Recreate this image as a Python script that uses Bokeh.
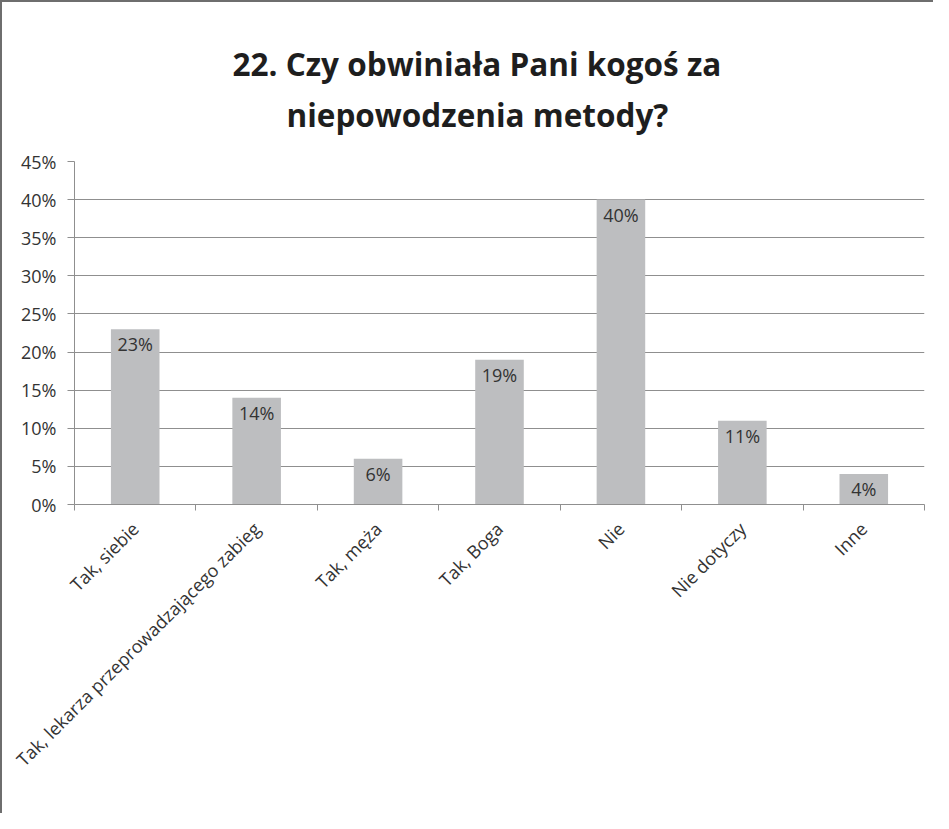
import math
from bokeh.plotting import figure
from bokeh.models import ColumnDataSource, FixedTicker, NumeralTickFormatter, Title, Range1d
from bokeh.core.properties import value
from bokeh.embed import file_html
from bokeh.resources import INLINE

categories = ["Tak, siebie", "Tak, lekarza przeprowadzającego zabieg", "Tak, męża",
              "Tak, Boga", "Nie", "Nie dotyczy", "Inne"]
values = [0.23, 0.14, 0.06, 0.19, 0.40, 0.11, 0.04]
y_ticks = [0, 0.05, 0.10, 0.15, 0.20, 0.25, 0.30, 0.35, 0.40, 0.45]
title_lines = ["22. Czy obwiniała Pani kogoś za", "niepowodzenia metody?"]

FONT = "Open Sans"
GREY = "#8f8f8f"
TXT = "#333333"

pos = list(range(1, len(categories) + 1))
labels = [f"{round(v * 100)}%" for v in values]
src = ColumnDataSource(dict(x=pos, top=values, label=labels))

p = figure(width=933, height=813, output_backend="svg", toolbar_location=None,
           x_range=Range1d(0.5, len(categories) + 0.5), y_range=Range1d(0, 0.45),
           min_border_left=72, min_border_right=11, min_border_top=159, min_border_bottom=311,
           background_fill_color="white", border_fill_color="white")
p.title.visible = False

t2 = Title(text=title_lines[1], align="left", offset=212, text_font=FONT, text_font_size="31.5px",
           text_font_style="bold", text_color="#1e1e1e", standoff=51)
t1 = Title(text=title_lines[0], align="left", offset=158, text_font=FONT, text_font_size="31.5px",
           text_font_style="bold", text_color="#1e1e1e")
try:
    t1.standoff = -38
except Exception:
    t1.standoff = 0
p.add_layout(t2, "above")
p.add_layout(t1, "above")

p.vbar(x="x", top="top", width=0.4, source=src, fill_color="#BDBEC0", line_color=None)
p.text(x="x", y="top", text="label", source=src, text_align="center", text_baseline="top",
       y_offset=3, text_font=value(FONT), text_font_size="18px", text_color=TXT)

p.outline_line_color = None
p.xgrid.visible = False
p.ygrid.ticker = FixedTicker(ticks=y_ticks)
p.ygrid.grid_line_color = GREY

p.yaxis.ticker = FixedTicker(ticks=y_ticks)
p.yaxis.formatter = NumeralTickFormatter(format="0%")
p.yaxis.axis_line_color = GREY
p.yaxis.major_tick_line_color = GREY
p.yaxis.major_tick_out = 7
p.yaxis.major_tick_in = 0
p.yaxis.minor_tick_line_color = None
p.yaxis.major_label_standoff = 11
p.yaxis.major_label_text_font = FONT
p.yaxis.major_label_text_font_size = "18px"
p.yaxis.major_label_text_color = TXT

p.xaxis.ticker = FixedTicker(ticks=pos, minor_ticks=[i - 0.5 for i in range(1, len(categories) + 2)])
p.xaxis.major_label_overrides = {i: c for i, c in zip(pos, categories)}
p.xaxis.major_label_orientation = math.pi / 4
p.xaxis.axis_line_color = GREY
p.xaxis.major_tick_line_color = None
p.xaxis.major_tick_out = 0
p.xaxis.major_tick_in = 0
p.xaxis.minor_tick_line_color = GREY
p.xaxis.minor_tick_out = 6
p.xaxis.minor_tick_in = 0
p.xaxis.major_label_standoff = 15
p.xaxis.major_label_text_font = FONT
p.xaxis.major_label_text_font_size = "18px"
p.xaxis.major_label_text_color = TXT

p.styles = {"border-left": "2px solid #6e6e6e", "border-top": "2px solid #6e6e6e"}

open("out.html", "w").write(file_html(p, INLINE))
